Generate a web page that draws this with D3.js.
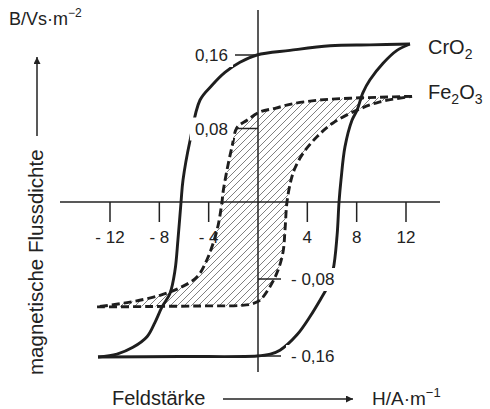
<html>
<head>
<meta charset="utf-8">
<title>Hysterese CrO2 / Fe2O3</title>
<script src="https://cdn.jsdelivr.net/npm/d3@7"></script>
<style>
  body { margin: 0; background: #fff; }
  text { font-family: "Liberation Sans", Arial, sans-serif; fill: #222; }
</style>
</head>
<body>
<script>
let w = 490
let h = 409

// x ticks (H in A/m) and y ticks (B in Vs/m^2)
let xTicks = [-12, -8, -4, 4, 8, 12]
let xTickLabels = ["- 12", "- 8", "- 4", "4", "8", "12"]
let yTicks = [0.16, 0.08, -0.08, -0.16]
let yTickLabels = ["0,16", "0,08", "- 0,08", "- 0,16"]

// CrO2 loop, [H, B]
let cro2Down = [[12.32,0.172],[9.08,0.171],[5.84,0.170],[2.59,0.165],[-0.08,0.160],[-1.46,0.152],
  [-2.68,0.141],[-3.73,0.127],[-4.70,0.111],[-5.51,0.067],[-6.08,0.024],[-6.24,0],[-6.49,-0.039],
  [-6.73,-0.071],[-7.14,-0.095],[-7.78,-0.109],[-8.35,-0.125],[-9.0,-0.140],[-10.14,-0.151],
  [-11.43,-0.158],[-12.97,-0.161]]
let cro2Up = [[-12.97,-0.161],[-6.32,-0.1605],[-0.08,-0.160],[1.0,-0.158],[1.78,-0.154],[3.16,-0.138],
  [4.22,-0.119],[5.03,-0.102],[5.60,-0.089],[6.08,-0.071],[6.41,-0.035],[6.57,0],[6.73,0.024],
  [7.05,0.060],[7.62,0.089],[8.03,0.100],[8.51,0.119],[9.08,0.133],[10.14,0.151],[11.27,0.165],[12.32,0.172]]

// Fe2O3 loop, [H, B]
let fe2o3Down = [[12.49,0.115],[9.89,0.114],[7.46,0.113],[5.03,0.111],[2.84,0.107],[1.38,0.102],
  [0.16,0.098],[-0.89,0.089],[-1.70,0.081],[-2.11,0.060],[-2.51,0.035],[-2.84,0.010],[-2.92,0],
  [-3.32,-0.029],[-4.14,-0.060],[-4.95,-0.078],[-6.32,-0.089],[-7.94,-0.097],[-10.38,-0.104],[-13.05,-0.109]]
let fe2o3Up = [[-13.05,-0.109],[-8.76,-0.1086],[-4.70,-0.108],[-1.46,-0.1075],[-0.49,-0.106],[0.16,-0.102],
  [0.97,-0.088],[1.62,-0.071],[2.03,-0.052],[2.19,-0.029],[2.35,0],[2.68,0.024],[3.00,0.037],
  [3.65,0.053],[4.78,0.071],[6.08,0.086],[8.03,0.100],[9.89,0.109],[12.49,0.115]]

let svg = d3.select("body").append("svg")
  .attr("width", w).attr("height", h)

let x = d3.scaleLinear().domain([-12, 12]).range([110, 406])
let y = d3.scaleLinear().domain([-0.16, 0, 0.16]).range([356, 202, 55])

let defs = svg.append("defs")
defs.append("marker")
  .attr("id", "arr").attr("viewBox", "0 0 10 10")
  .attr("refX", 10).attr("refY", 5)
  .attr("markerWidth", 10).attr("markerHeight", 7)
  .attr("markerUnits", "userSpaceOnUse")
  .attr("orient", "auto")
  .append("path").attr("d", "M0,0L10,5L0,10Z").attr("fill", "#222")

let line = d3.line()
  .x(d => x(d[0]))
  .y(d => y(d[1]))
  .curve(d3.curveCatmullRom.alpha(0.5))

// hatching inside the Fe2O3 loop
defs.append("clipPath").attr("id", "feclip")
  .append("path")
  .attr("d", line(fe2o3Down) + "L" + line(fe2o3Up).slice(1) + "Z")

let hatch = svg.append("g").attr("clip-path", "url(#feclip)")
for (let k = -400; k < 500; k += 7) {
  hatch.append("line")
    .attr("x1", k).attr("y1", 330)
    .attr("x2", k + 250).attr("y2", 80)
    .attr("stroke", "#555").attr("stroke-width", 0.75)
}

// axes
svg.append("line")
  .attr("x1", 60).attr("x2", 440)
  .attr("y1", y(0)).attr("y2", y(0))
  .attr("stroke", "#222").attr("stroke-width", 1.5)
svg.append("line")
  .attr("x1", x(0)).attr("x2", x(0))
  .attr("y1", 10).attr("y2", 372)
  .attr("stroke", "#222").attr("stroke-width", 1.5)

svg.selectAll(".xtick")
  .data(xTicks).enter().append("line")
  .attr("x1", d => x(d)).attr("x2", d => x(d))
  .attr("y1", y(0)).attr("y2", y(0) + 20)
  .attr("stroke", "#222").attr("stroke-width", 1.5)

svg.selectAll(".xlab")
  .data(xTicks).enter().append("text")
  .attr("x", d => x(d)).attr("y", 243)
  .attr("text-anchor", "middle")
  .attr("font-size", 17)
  .text((d, i) => xTickLabels[i])

// curves
let curves = svg.append("g").attr("fill", "none").attr("stroke", "#1e1e1e")
;[cro2Down, cro2Up].forEach(c => {
  curves.append("path").attr("d", line(c)).attr("stroke-width", 2.9)
})
;[fe2o3Down, fe2o3Up].forEach(c => {
  curves.append("path").attr("d", line(c)).attr("stroke-width", 2.9)
    .attr("stroke-dasharray", "8,4")
})

// y ticks with white knockout behind labels
yTicks.forEach((d, i) => {
  let left = d > 0
  let x0 = x(0)
  svg.append("line")
    .attr("x1", left ? x0 - 23 : x0).attr("x2", left ? x0 : x0 + 23)
    .attr("y1", y(d)).attr("y2", y(d))
    .attr("stroke", "#222").attr("stroke-width", 1.5)
  let t = svg.append("text")
    .attr("x", left ? x0 - 30 : x0 + 33)
    .attr("y", y(d) + 6)
    .attr("text-anchor", left ? "end" : "start")
    .attr("font-size", 17)
    .text(yTickLabels[i])
  let bb = t.node().getBBox()
  svg.insert("rect", () => t.node())
    .attr("x", bb.x - 5).attr("y", bb.y - 2)
    .attr("width", bb.width + 10).attr("height", bb.height + 4)
    .attr("fill", "#fff")
})

// legend labels
let cr = svg.append("text").attr("x", 428).attr("y", 54).attr("font-size", 20)
cr.append("tspan").text("CrO")
cr.append("tspan").attr("font-size", 14).attr("dy", 5).text("2")
let fe = svg.append("text").attr("x", 428).attr("y", 99).attr("font-size", 20)
fe.append("tspan").text("Fe")
fe.append("tspan").attr("font-size", 14).attr("dy", 5).text("2")
fe.append("tspan").attr("dy", -5).text("O")
fe.append("tspan").attr("font-size", 14).attr("dy", 5).text("3")

// axis titles
let bt = svg.append("text").attr("x", 9).attr("y", 25).attr("font-size", 18)
bt.append("tspan").text("B/Vs·m")
bt.append("tspan").attr("font-size", 12).attr("dy", -8).text("−2")

let ht = svg.append("text").attr("x", 372).attr("y", 405).attr("font-size", 19)
ht.append("tspan").text("H/A·m")
ht.append("tspan").attr("font-size", 13).attr("dy", -8).text("−1")

svg.append("text").attr("x", 112).attr("y", 405).attr("font-size", 20).text("Feldstärke")
svg.append("line")
  .attr("x1", 223).attr("x2", 353).attr("y1", 399).attr("y2", 399)
  .attr("stroke", "#222").attr("stroke-width", 1.5)
  .attr("marker-end", "url(#arr)")

svg.append("text")
  .attr("transform", "translate(43,375) rotate(-90)")
  .attr("font-size", 20.5)
  .text("magnetische Flussdichte")
svg.append("line")
  .attr("x1", 37).attr("x2", 37).attr("y1", 136).attr("y2", 57)
  .attr("stroke", "#222").attr("stroke-width", 1.5)
  .attr("marker-end", "url(#arr)")
</script>
</body>
</html>
